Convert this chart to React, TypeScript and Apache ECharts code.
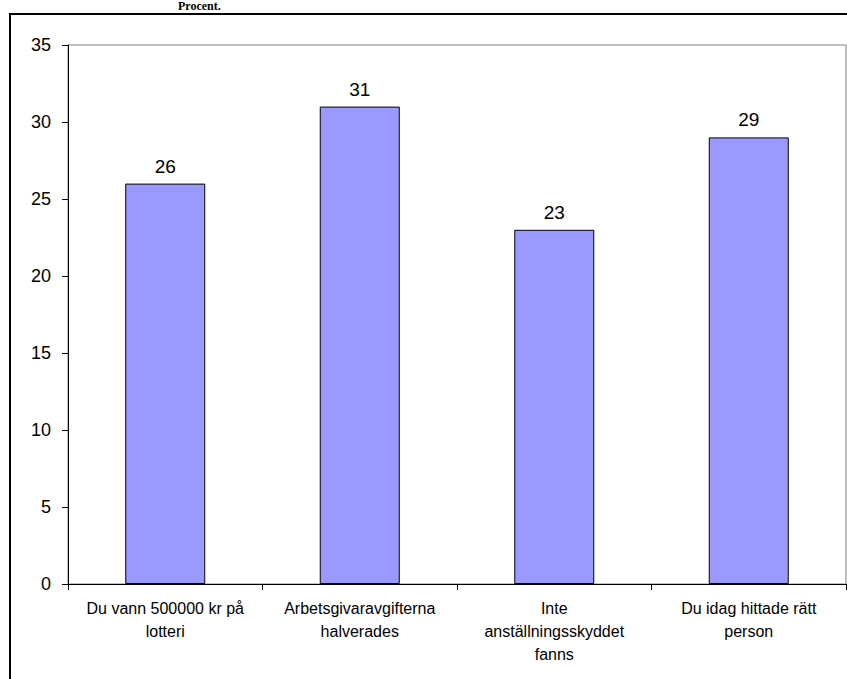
import React, { useEffect, useRef } from "react";
import * as echarts from "echarts";

const categories = [
  "Du vann 500000 kr på\nlotteri",
  "Arbetsgivaravgifterna\nhalverades",
  "Inte\nanställningsskyddet\nfanns",
  "Du idag hittade rätt\nperson",
];
const values = [26, 31, 23, 29];
const yMin = 0;
const yMax = 35;
const yInterval = 5;
const titleText = "Procent.";

export default function App() {
  const ref = useRef<HTMLDivElement>(null);
  useEffect(() => {
    if (!ref.current) return;
    const chart = echarts.init(ref.current, undefined, { renderer: "svg" });
    chart.setOption({
      animation: false,
      backgroundColor: "#ffffff",
      textStyle: { fontFamily: "Liberation Sans, Arial, sans-serif" },
      graphic: [
        {
          type: "rect",
          shape: { x: 10, y: 14, width: 900, height: 700 },
          style: { fill: "none", stroke: "#000", lineWidth: 2 },
          z: 100,
        },
        {
          type: "text",
          x: 178,
          y: 0,
          style: {
            text: titleText,
            font: "bold 12px 'Liberation Serif', 'Times New Roman', serif",
            fill: "#000",
          },
        },
      ],
      grid: {
        left: 68,
        top: 45,
        right: 1,
        bottom: 95,
        show: true,
        borderColor: "#808080",
        borderWidth: 1,
        backgroundColor: "transparent",
      },
      xAxis: {
        type: "category",
        data: categories,
        axisLine: { lineStyle: { color: "#000", width: 1 } },
        axisTick: { show: true, length: 6, alignWithLabel: false, lineStyle: { color: "#000" } },
        axisLabel: {
          color: "#000",
          fontSize: 16,
          lineHeight: 23,
          margin: 13,
          interval: 0,
          fontFamily: "Liberation Sans, Arial, sans-serif",
        },
      },
      yAxis: {
        type: "value",
        min: yMin,
        max: yMax,
        interval: yInterval,
        axisLine: { show: true, lineStyle: { color: "#000", width: 1 } },
        axisTick: { show: true, length: 6, lineStyle: { color: "#000" } },
        splitLine: { show: false },
        axisLabel: {
          color: "#000",
          fontSize: 18,
          margin: 17,
          fontFamily: "Liberation Sans, Arial, sans-serif",
        },
      },
      series: [
        {
          type: "bar",
          data: values,
          barWidth: 80,
          itemStyle: { color: "#9999FF", borderColor: "#000", borderWidth: 1 },
          label: {
            show: true,
            position: "top",
            distance: 8,
            color: "#000",
            fontSize: 19,
            fontFamily: "Liberation Sans, Arial, sans-serif",
          },
        },
      ],
    });
    return () => chart.dispose();
  }, []);
  return (
    <div
      ref={ref}
      style={{ position: "absolute", left: 0, top: 0, width: 847, height: 679 }}
    />
  );
}
